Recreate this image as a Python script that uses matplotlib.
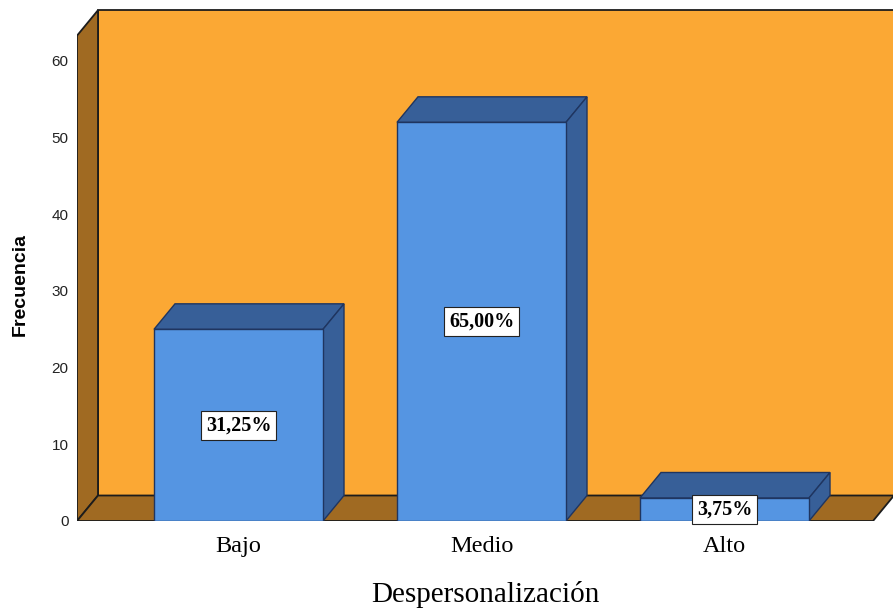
import numpy as np
import matplotlib.pyplot as plt
from matplotlib.patches import Polygon

categorias = ["Bajo", "Medio", "Alto"]
frecuencias = [25, 52, 3]
y_ticks = [0, 10, 20, 30, 40, 50, 60]

# colores estilo SPSS
c_pared = "#FBA834"
c_suelo = "#A06A22"
c_frente = "#5595E2"
c_oscuro = "#375F98"
c_borde = "#1c1c1c"
c_borde_barra = "#1F3560"

total = sum(frecuencias)

fig = plt.figure(figsize=(8.93, 6.09), dpi=100)
ax = fig.add_axes([77 / 893, 88 / 609, 1 - 77 / 893, 1 - 88 / 609])

x_izq = -0.6646
x_der = 2.611
y_techo = 63.3
dx = 21 / 243      # profundidad en x
dy = 25.5 / 7.667  # profundidad en y
ancho = 0.6955


def poly(pts, fc, ec, z, lw=1.0):
    ax.add_patch(Polygon(pts, closed=True, facecolor=fc, edgecolor=ec, lw=lw, zorder=z))


# pared del fondo, pared lateral y suelo
poly([(x_izq + dx, dy), (x_der + dx + 1, dy), (x_der + dx + 1, y_techo + dy),
      (x_izq + dx, y_techo + dy)], c_pared, c_borde, 1, 1.3)
poly([(x_izq, 0), (x_izq + dx, dy), (x_izq + dx, y_techo + dy), (x_izq, y_techo)],
     c_suelo, c_borde, 2, 1.3)
poly([(x_izq, 0), (x_der, 0), (x_der + dx, dy), (x_izq + dx, dy)], c_suelo, c_borde, 2, 1.3)

# barras 3D
for i, v in enumerate(frecuencias):
    l = i - ancho / 2
    r = i + ancho / 2
    poly([(l, v), (r, v), (r + dx, v + dy), (l + dx, v + dy)], c_oscuro, c_borde_barra, 3)
    poly([(r, 0), (r + dx, dy), (r + dx, v + dy), (r, v)], c_oscuro, c_borde_barra, 3)
    poly([(l, 0), (r, 0), (r, v), (l, v)], c_frente, c_borde_barra, 4)
    pct = "{:.2f}%".format(v / total * 100).replace(".", ",")
    ax.text(i, v / 2, pct, ha="center", va="center", fontsize=14.5, fontweight="bold",
            family="Liberation Serif", zorder=6,
            bbox=dict(boxstyle="square,pad=0.22", facecolor="white", edgecolor="#222222", lw=0.8))

ax.set_xlim(x_izq, 2.6934)
ax.set_ylim(0, 521 / 7.667)
for s in ax.spines.values():
    s.set_visible(False)

ax.set_yticks(y_ticks)
ax.set_yticklabels([str(t) for t in y_ticks], fontsize=11, family="Liberation Sans", color="#222222")
ax.set_xticks(range(len(categorias)))
ax.set_xticklabels(categorias, fontsize=17.5, family="Liberation Serif")
ax.tick_params(axis="y", length=0, pad=6)
ax.tick_params(axis="x", length=0, pad=11)

ax.set_xlabel("Despersonalización", fontsize=21, family="Liberation Serif", labelpad=17)
ax.set_ylabel("Frecuencia", fontsize=14, family="Liberation Sans", fontweight="bold")
ax.yaxis.set_label_coords(-0.059, 0.453)

fig.savefig("out.png", dpi=100)
